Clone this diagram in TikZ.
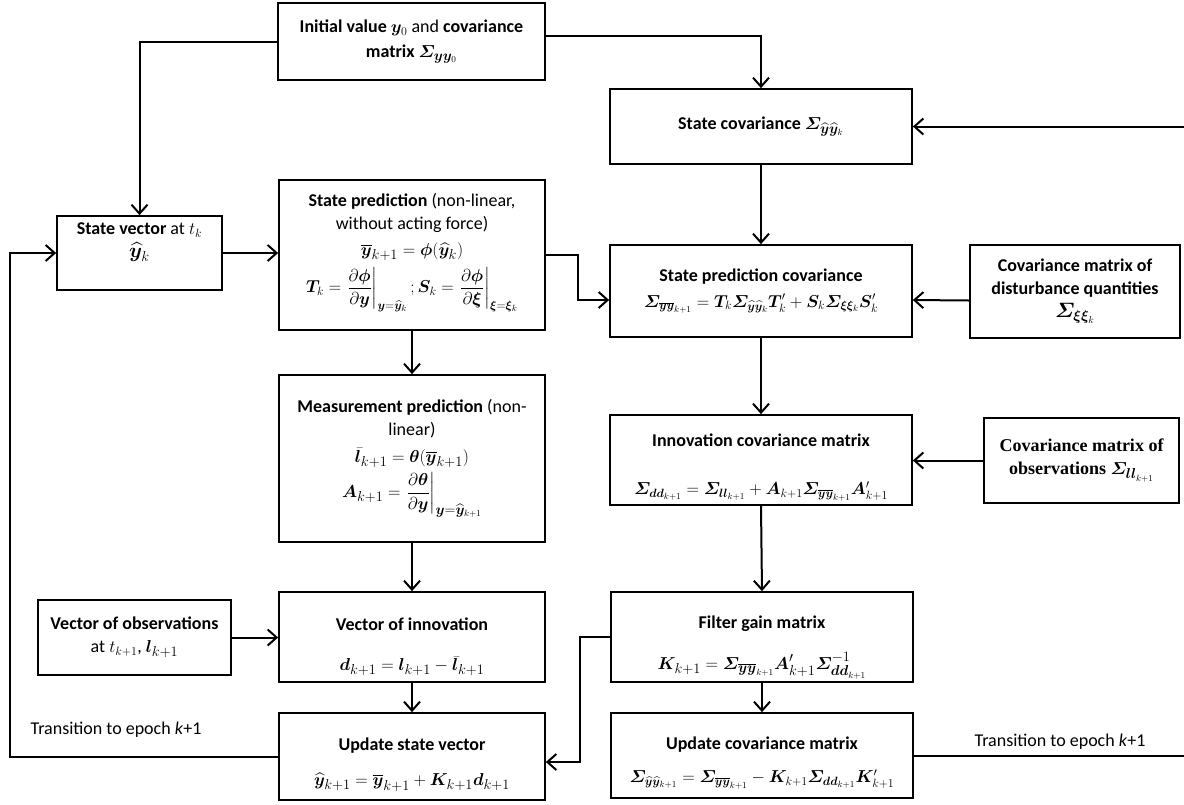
\documentclass[tikz,border=0pt]{standalone}
\usepackage{amsmath}
\usepackage{bm}
\usepackage{fontspec}
\setmainfont{Carlito}
\newfontfamily\obsfont{Liberation Serif}
\usetikzlibrary{arrows.meta}

% shorthands for the bold symbols of the filter equations
\newcommand{\yhat}{\widehat{\bm y}}
\newcommand{\ybar}{\overline{\bm y}}
\newcommand{\Sig}{\bm{\varSigma}}
% a formula line, set a little larger than the text
\newcommand{\fm}[2][20]{{\fontsize{#1}{23}\selectfont$#2$}}
% invisible strut that lowers the first line of a box
\newcommand{\lift}[1]{\rule{0pt}{#1pt}}

\begin{document}
\begin{tikzpicture}[x=1pt,y=-1pt,
  box/.style={draw, line width=1.7pt, align=center, inner sep=0pt,
    font=\fontsize{18}{23}\selectfont},
  flow/.style={line width=2pt,
    -{Straight Barb[length=9pt,width=16pt,line width=2pt]}},
  note/.style={font=\fontsize{18}{23}\selectfont}]
\useasboundingbox (0,0) rectangle (1184,804);

% ---------- boxes ----------
\node[box, minimum width=267pt, minimum height=77pt] (init) at (411.5,41.5)
  {\textbf{Initial value} $\bm y_0$ and \textbf{covariance}\\[2pt]
   \textbf{matrix} \fm[19]{\Sig_{\bm{yy}_0}}};

\node[box, minimum width=302pt, minimum height=75pt] (scov) at (761,126.5)
  {\textbf{State covariance} \fm[19]{\Sig_{\yhat\yhat_k}}};

\node[box, minimum width=165pt, minimum height=74pt] (svec) at (139.5,253)
  {\textbf{State vector} at $t_k$\\ \fm{\yhat_k}\\[2pt]};

\node[box, minimum width=266pt, minimum height=150pt] (spred) at (412,255)
  {\textbf{State prediction} (non-linear,\\ without acting force)\\[3pt]
   \fm[19]{\ybar_{k+1}=\bm\phi(\yhat_k)}\\[6pt]
   \fm[17.5]{\bm T_k=\left.\dfrac{\partial\bm\phi}{\partial\bm y}\right|_{\bm y=\yhat_k}
   ;\bm S_k=\left.\dfrac{\partial\bm\phi}{\partial\bm\xi}\right|_{\bm\xi=\bm\xi_k}}\\[1pt]};

\node[box, minimum width=302pt, minimum height=92pt] (spcov) at (761,291)
  {\textbf{State prediction covariance}\\[3pt]
   \fm[18.5]{\Sig_{\ybar\ybar_{k+1}}=\bm T_k\Sig_{\yhat\yhat_k}\bm T'_k
    +\bm S_k\Sig_{\bm{\xi\xi}_k}\bm S'_k}};

\node[box, minimum width=210pt, minimum height=93pt] (dist) at (1075,291.5)
  {\textbf{Covariance matrix of}\\ \textbf{disturbance quantities}\\
   \fm{\Sig_{\bm{\xi\xi}_k}}};

\node[box, minimum width=266pt, minimum height=167pt] (meas) at (412,458.5)
  {\textbf{Measurement prediction} (non-\\ linear)\\[4pt]
   \fm[19]{\bar{\bm l}_{k+1}=\bm\theta(\ybar_{k+1})}\\[4pt]
   \fm[19]{\bm A_{k+1}=\left.\dfrac{\partial\bm\theta}{\partial\bm y}\right|_{\bm y=\yhat_{k+1}}}};

\node[box, minimum width=302pt, minimum height=90pt] (icov) at (761,460)
  {\lift{28}\textbf{Innovation covariance matrix}\\[25pt]
   \fm[18]{\Sig_{\bm{dd}_{k+1}}=\Sig_{\bm{ll}_{k+1}}
    +\bm A_{k+1}\Sig_{\ybar\ybar_{k+1}}\bm A'_{k+1}}};

\node[box, minimum width=195pt, minimum height=85pt,
  font=\obsfont\bfseries\fontsize{18}{23}\selectfont] (cobs) at (1081.5,460.5)
  {Covariance matrix of\\ observations \fm[19]{\Sig_{\bm{ll}_{k+1}}}};

\node[box, minimum width=193pt, minimum height=75pt] (vobs) at (134.5,637.5)
  {\textbf{Vector of observations}\\ at $t_{k+1}$, \fm[19]{\bm l_{k+1}}};

\node[box, minimum width=266pt, minimum height=90pt] (vinn) at (412,637)
  {\lift{33}\textbf{Vector of innovation}\\[17pt]
   \fm[19]{\bm d_{k+1}=\bm l_{k+1}-\bar{\bm l}_{k+1}}};

\node[box, minimum width=302pt, minimum height=90pt] (fgain) at (762,637)
  {\lift{33}\textbf{Filter gain matrix}\\[18pt]
   \fm[19]{\bm K_{k+1}=\Sig_{\ybar\ybar_{k+1}}\bm A'_{k+1}\Sig^{-1}_{\bm{dd}_{k+1}}}};

\node[box, minimum width=266pt, minimum height=87pt] (ustate) at (412,756.5)
  {\lift{29}\textbf{Update state vector}\\[12pt]
   \fm[19]{\yhat_{k+1}=\ybar_{k+1}+\bm K_{k+1}\bm d_{k+1}}};

\node[box, minimum width=302pt, minimum height=85pt] (ucov) at (762,755.5)
  {\lift{28}\textbf{Update covariance matrix}\\[10pt]
   \fm[17.5]{\Sig_{\yhat\yhat_{k+1}}=\Sig_{\ybar\ybar_{k+1}}
    -\bm K_{k+1}\Sig_{\bm{dd}_{k+1}}\bm K'_{k+1}}};

% ---------- free labels ----------
\node[note] (tl) at (116,730) {Transition to epoch \textit{k}+1};
\node[note] (tr) at (1060,742) {Transition to epoch \textit{k}+1};

% ---------- routing points ----------
\coordinate (fbx) at (10,0);     % left feedback rail
\coordinate (elb) at (578,0);    % bend towards state prediction covariance
\coordinate (fgx) at (580,0);    % bend from filter gain to state update
\coordinate (rx)  at (1188,0);   % right feedback rail, just past the page edge

% ---------- connectors ----------
\draw[flow] ([yshift=6pt]init.east) -| (scov.north);
\draw[flow] (init.west) -| (svec.north);
\draw[flow] (svec.east) -- (svec.east -| spred.west);
\draw[flow] (ustate.west) -- (ustate.west -| fbx) |- (svec.west);
\draw[flow] (spred.east) -- (spred.east -| elb) |- ([yshift=-9pt]spcov.west);
\draw[flow] ([yshift=-9pt]dist.west) -- ([yshift=-9pt]spcov.east);
\draw[flow] (scov.south) -- (spcov.north);
\draw[flow] (spcov.south) -- (icov.north);
\draw[flow] (spred.south) -- (meas.north);
\draw[flow] (meas.south) -- (vinn.north);
\draw[flow] (cobs.west) -- (cobs.west -| icov.east);
\draw[flow] (icov.south) -- (fgain.north);
\draw[flow] (vobs.east) -- (vobs.east -| vinn.west);
\draw[flow] (vinn.south) -- (ustate.north);
\draw[flow] (fgain.west) -- (fgain.west -| fgx) |- ([yshift=-5.5pt]ustate.east);
\draw[flow] (fgain.south) -- (ucov.north);
\draw[flow] (ucov.east) -- (ucov.east -| rx) |- (scov.east);
\end{tikzpicture}
\end{document}
